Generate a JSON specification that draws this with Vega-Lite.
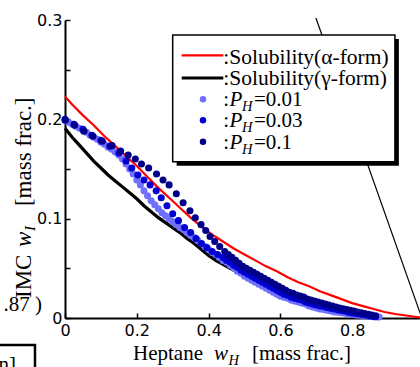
{
"$schema": "https://vega.github.io/schema/vega-lite/v6.json",
"width": 355, "height": 298,
"autosize": {"type": "none"},
"padding": {"left": 65, "top": 20, "right": 0, "bottom": 49},
"background": "white",
"config": {"view": {"stroke": null}, "axis": {"grid": false, "title": null, "domainColor": "black", "domainWidth": 2, "tickColor": "black", "tickWidth": 1.5, "labelColor": "black", "labelFont": "DejaVu Sans", "labelFontSize": 16}},
"datasets": {
"alpha": [{"x":0,"y":0.223},{"x":0.02,"y":0.215},{"x":0.05,"y":0.204},{"x":0.08,"y":0.194},{"x":0.11,"y":0.183},{"x":0.14,"y":0.173},{"x":0.17,"y":0.163},{"x":0.2,"y":0.153},{"x":0.23,"y":0.142},{"x":0.26,"y":0.131},{"x":0.29,"y":0.121},{"x":0.32,"y":0.111},{"x":0.35,"y":0.101},{"x":0.38,"y":0.092},{"x":0.41,"y":0.084},{"x":0.44,"y":0.077},{"x":0.47,"y":0.07},{"x":0.5,"y":0.064},{"x":0.53,"y":0.058},{"x":0.56,"y":0.052},{"x":0.59,"y":0.047},{"x":0.62,"y":0.041},{"x":0.65,"y":0.036},{"x":0.68,"y":0.032},{"x":0.71,"y":0.027},{"x":0.74,"y":0.023},{"x":0.77,"y":0.019},{"x":0.8,"y":0.015},{"x":0.83,"y":0.012},{"x":0.86,"y":0.009},{"x":0.89,"y":0.006},{"x":0.92,"y":0.004},{"x":0.95,"y":0.0025},{"x":0.98,"y":0.001},{"x":1.0,"y":0.0}],
"gamma": [{"x":0,"y":0.191},{"x":0.02,"y":0.182},{"x":0.04,"y":0.174},{"x":0.06,"y":0.166},{"x":0.08,"y":0.158},{"x":0.1,"y":0.151},{"x":0.12,"y":0.144},{"x":0.14,"y":0.138},{"x":0.16,"y":0.132},{"x":0.18,"y":0.126},{"x":0.2,"y":0.12},{"x":0.22,"y":0.113},{"x":0.24,"y":0.107},{"x":0.26,"y":0.101},{"x":0.28,"y":0.096},{"x":0.3,"y":0.091},{"x":0.32,"y":0.086},{"x":0.34,"y":0.08},{"x":0.36,"y":0.075},{"x":0.38,"y":0.069},{"x":0.4,"y":0.063},{"x":0.42,"y":0.058},{"x":0.44,"y":0.054},{"x":0.46,"y":0.05},{"x":0.5,"y":0.043},{"x":0.55,"y":0.035},{"x":0.6,"y":0.028},{"x":0.65,"y":0.022},{"x":0.7,"y":0.016},{"x":0.75,"y":0.011},{"x":0.8,"y":0.007},{"x":0.85,"y":0.003},{"x":0.88,"y":0.001}],
"pts": [
{"PH":"0.01","x":0.0,"y":0.199},{"PH":"0.01","x":0.01,"y":0.197},{"PH":"0.01","x":0.02,"y":0.195},{"PH":"0.01","x":0.03,"y":0.193},{"PH":"0.01","x":0.04,"y":0.191},{"PH":"0.01","x":0.05,"y":0.189},{"PH":"0.01","x":0.06,"y":0.187},{"PH":"0.01","x":0.07,"y":0.184},{"PH":"0.01","x":0.08,"y":0.182},{"PH":"0.01","x":0.09,"y":0.18},{"PH":"0.01","x":0.1,"y":0.177},{"PH":"0.01","x":0.11,"y":0.175},{"PH":"0.01","x":0.12,"y":0.172},{"PH":"0.01","x":0.13,"y":0.17},{"PH":"0.01","x":0.14,"y":0.167},{"PH":"0.01","x":0.15,"y":0.164},{"PH":"0.01","x":0.16,"y":0.16},{"PH":"0.01","x":0.17,"y":0.155},{"PH":"0.01","x":0.18,"y":0.15},{"PH":"0.01","x":0.19,"y":0.145},{"PH":"0.01","x":0.2,"y":0.139},{"PH":"0.01","x":0.21,"y":0.134},{"PH":"0.01","x":0.22,"y":0.128},{"PH":"0.01","x":0.23,"y":0.123},{"PH":"0.01","x":0.24,"y":0.118},{"PH":"0.01","x":0.25,"y":0.114},{"PH":"0.01","x":0.26,"y":0.11},{"PH":"0.01","x":0.27,"y":0.106},{"PH":"0.01","x":0.28,"y":0.103},{"PH":"0.01","x":0.29,"y":0.1},{"PH":"0.01","x":0.3,"y":0.097},{"PH":"0.01","x":0.31,"y":0.094},{"PH":"0.01","x":0.32,"y":0.091},{"PH":"0.01","x":0.33,"y":0.089},{"PH":"0.01","x":0.34,"y":0.086},{"PH":"0.01","x":0.35,"y":0.083},{"PH":"0.01","x":0.36,"y":0.081},{"PH":"0.01","x":0.37,"y":0.078},{"PH":"0.01","x":0.38,"y":0.075},{"PH":"0.01","x":0.39,"y":0.072},{"PH":"0.01","x":0.4,"y":0.069},{"PH":"0.01","x":0.41,"y":0.066},{"PH":"0.01","x":0.42,"y":0.064},{"PH":"0.01","x":0.43,"y":0.061},{"PH":"0.01","x":0.44,"y":0.058},{"PH":"0.01","x":0.45,"y":0.056},{"PH":"0.01","x":0.46,"y":0.053},{"PH":"0.01","x":0.47,"y":0.05},{"PH":"0.01","x":0.48,"y":0.047},{"PH":"0.01","x":0.49,"y":0.045},{"PH":"0.01","x":0.5,"y":0.042},{"PH":"0.01","x":0.51,"y":0.04},{"PH":"0.01","x":0.52,"y":0.038},{"PH":"0.01","x":0.53,"y":0.036},{"PH":"0.01","x":0.54,"y":0.034},{"PH":"0.01","x":0.55,"y":0.032},{"PH":"0.01","x":0.56,"y":0.03},{"PH":"0.01","x":0.57,"y":0.028},{"PH":"0.01","x":0.58,"y":0.026},{"PH":"0.01","x":0.59,"y":0.024},{"PH":"0.01","x":0.6,"y":0.022},{"PH":"0.01","x":0.61,"y":0.021},{"PH":"0.01","x":0.62,"y":0.02},{"PH":"0.01","x":0.63,"y":0.018},{"PH":"0.01","x":0.64,"y":0.017},{"PH":"0.01","x":0.65,"y":0.016},{"PH":"0.01","x":0.66,"y":0.015},{"PH":"0.01","x":0.67,"y":0.014},{"PH":"0.01","x":0.68,"y":0.012},{"PH":"0.01","x":0.69,"y":0.011},{"PH":"0.01","x":0.7,"y":0.01},{"PH":"0.01","x":0.71,"y":0.009},{"PH":"0.01","x":0.72,"y":0.0085},{"PH":"0.01","x":0.73,"y":0.0078},{"PH":"0.01","x":0.74,"y":0.007},{"PH":"0.01","x":0.75,"y":0.006},{"PH":"0.01","x":0.76,"y":0.0057},{"PH":"0.01","x":0.77,"y":0.0052},{"PH":"0.01","x":0.78,"y":0.0047},{"PH":"0.01","x":0.79,"y":0.004},{"PH":"0.01","x":0.8,"y":0.0035},{"PH":"0.01","x":0.81,"y":0.0031},{"PH":"0.01","x":0.82,"y":0.0027},{"PH":"0.01","x":0.83,"y":0.0023},{"PH":"0.01","x":0.84,"y":0.002},{"PH":"0.01","x":0.85,"y":0.0015},{"PH":"0.01","x":0.86,"y":0.0012},{"PH":"0.01","x":0.87,"y":0.001},{"PH":"0.01","x":0.875,"y":0.001},
{"PH":"0.03","x":0.0,"y":0.2},{"PH":"0.03","x":0.025,"y":0.195},{"PH":"0.03","x":0.05,"y":0.19},{"PH":"0.03","x":0.075,"y":0.184},{"PH":"0.03","x":0.1,"y":0.179},{"PH":"0.03","x":0.125,"y":0.173},{"PH":"0.03","x":0.15,"y":0.166},{"PH":"0.03","x":0.17,"y":0.158},{"PH":"0.03","x":0.186,"y":0.151},{"PH":"0.03","x":0.203,"y":0.144},{"PH":"0.03","x":0.22,"y":0.139},{"PH":"0.03","x":0.237,"y":0.134},{"PH":"0.03","x":0.254,"y":0.128},{"PH":"0.03","x":0.268,"y":0.121},{"PH":"0.03","x":0.284,"y":0.113},{"PH":"0.03","x":0.3,"y":0.105},{"PH":"0.03","x":0.316,"y":0.098},{"PH":"0.03","x":0.333,"y":0.091},{"PH":"0.03","x":0.35,"y":0.086},{"PH":"0.03","x":0.365,"y":0.08},{"PH":"0.03","x":0.38,"y":0.075},{"PH":"0.03","x":0.395,"y":0.071},{"PH":"0.03","x":0.41,"y":0.067},{"PH":"0.03","x":0.425,"y":0.064},{"PH":"0.03","x":0.44,"y":0.061},{"PH":"0.03","x":0.45,"y":0.058},{"PH":"0.03","x":0.46,"y":0.056},{"PH":"0.03","x":0.47,"y":0.053},{"PH":"0.03","x":0.48,"y":0.051},{"PH":"0.03","x":0.49,"y":0.048},{"PH":"0.03","x":0.5,"y":0.046},{"PH":"0.03","x":0.51,"y":0.044},{"PH":"0.03","x":0.52,"y":0.042},{"PH":"0.03","x":0.53,"y":0.04},{"PH":"0.03","x":0.54,"y":0.038},{"PH":"0.03","x":0.55,"y":0.036},{"PH":"0.03","x":0.56,"y":0.034},{"PH":"0.03","x":0.57,"y":0.032},{"PH":"0.03","x":0.58,"y":0.03},{"PH":"0.03","x":0.59,"y":0.028},{"PH":"0.03","x":0.6,"y":0.026},{"PH":"0.03","x":0.61,"y":0.024},{"PH":"0.03","x":0.62,"y":0.023},{"PH":"0.03","x":0.63,"y":0.021},{"PH":"0.03","x":0.64,"y":0.02},{"PH":"0.03","x":0.65,"y":0.019},{"PH":"0.03","x":0.66,"y":0.018},{"PH":"0.03","x":0.67,"y":0.016},{"PH":"0.03","x":0.68,"y":0.015},{"PH":"0.03","x":0.69,"y":0.014},{"PH":"0.03","x":0.7,"y":0.013},{"PH":"0.03","x":0.71,"y":0.012},{"PH":"0.03","x":0.72,"y":0.0115},{"PH":"0.03","x":0.73,"y":0.0105},{"PH":"0.03","x":0.74,"y":0.0097},{"PH":"0.03","x":0.75,"y":0.009},{"PH":"0.03","x":0.76,"y":0.0082},{"PH":"0.03","x":0.77,"y":0.0075},{"PH":"0.03","x":0.78,"y":0.0068},{"PH":"0.03","x":0.79,"y":0.0058},{"PH":"0.03","x":0.8,"y":0.005},{"PH":"0.03","x":0.81,"y":0.0045},{"PH":"0.03","x":0.82,"y":0.004},{"PH":"0.03","x":0.83,"y":0.0033},{"PH":"0.03","x":0.84,"y":0.0028},{"PH":"0.03","x":0.85,"y":0.002},{"PH":"0.03","x":0.86,"y":0.0014},{"PH":"0.03","x":0.865,"y":0.0012},
{"PH":"0.1","x":0.001,"y":0.199},{"PH":"0.1","x":0.027,"y":0.194},{"PH":"0.1","x":0.053,"y":0.188},{"PH":"0.1","x":0.078,"y":0.183},{"PH":"0.1","x":0.104,"y":0.178},{"PH":"0.1","x":0.131,"y":0.1735},{"PH":"0.1","x":0.155,"y":0.168},{"PH":"0.1","x":0.176,"y":0.164},{"PH":"0.1","x":0.196,"y":0.16},{"PH":"0.1","x":0.213,"y":0.155},{"PH":"0.1","x":0.233,"y":0.151},{"PH":"0.1","x":0.255,"y":0.145},{"PH":"0.1","x":0.273,"y":0.139},{"PH":"0.1","x":0.29,"y":0.134},{"PH":"0.1","x":0.31,"y":0.125},{"PH":"0.1","x":0.329,"y":0.116},{"PH":"0.1","x":0.348,"y":0.108},{"PH":"0.1","x":0.363,"y":0.101},{"PH":"0.1","x":0.379,"y":0.094},{"PH":"0.1","x":0.392,"y":0.088},{"PH":"0.1","x":0.404,"y":0.082},{"PH":"0.1","x":0.417,"y":0.077},{"PH":"0.1","x":0.431,"y":0.072},{"PH":"0.1","x":0.445,"y":0.067},{"PH":"0.1","x":0.455,"y":0.064},{"PH":"0.1","x":0.465,"y":0.061},{"PH":"0.1","x":0.475,"y":0.058},{"PH":"0.1","x":0.485,"y":0.055},{"PH":"0.1","x":0.495,"y":0.052},{"PH":"0.1","x":0.505,"y":0.05},{"PH":"0.1","x":0.515,"y":0.048},{"PH":"0.1","x":0.525,"y":0.046},{"PH":"0.1","x":0.535,"y":0.044},{"PH":"0.1","x":0.545,"y":0.042},{"PH":"0.1","x":0.555,"y":0.04},{"PH":"0.1","x":0.565,"y":0.038},{"PH":"0.1","x":0.575,"y":0.036},{"PH":"0.1","x":0.585,"y":0.034},{"PH":"0.1","x":0.595,"y":0.032},{"PH":"0.1","x":0.605,"y":0.03},{"PH":"0.1","x":0.615,"y":0.028},{"PH":"0.1","x":0.625,"y":0.026},{"PH":"0.1","x":0.635,"y":0.025},{"PH":"0.1","x":0.645,"y":0.023},{"PH":"0.1","x":0.655,"y":0.022},{"PH":"0.1","x":0.665,"y":0.021},{"PH":"0.1","x":0.675,"y":0.019},{"PH":"0.1","x":0.685,"y":0.018},{"PH":"0.1","x":0.695,"y":0.017},{"PH":"0.1","x":0.705,"y":0.016},{"PH":"0.1","x":0.715,"y":0.015},{"PH":"0.1","x":0.725,"y":0.014},{"PH":"0.1","x":0.735,"y":0.013},{"PH":"0.1","x":0.745,"y":0.012},{"PH":"0.1","x":0.755,"y":0.011},{"PH":"0.1","x":0.765,"y":0.01},{"PH":"0.1","x":0.775,"y":0.0092},{"PH":"0.1","x":0.785,"y":0.0085},{"PH":"0.1","x":0.795,"y":0.0078},{"PH":"0.1","x":0.805,"y":0.007},{"PH":"0.1","x":0.815,"y":0.006},{"PH":"0.1","x":0.825,"y":0.0052},{"PH":"0.1","x":0.835,"y":0.0045},{"PH":"0.1","x":0.845,"y":0.0037},{"PH":"0.1","x":0.855,"y":0.003},{"PH":"0.1","x":0.865,"y":0.0022}
],
"callout": [{"x":0.699,"y":0.302},{"x":0.994,"y":0.0}]
},
"layer": [
{"data": {"name": "callout"}, "mark": {"type": "line", "color": "black", "strokeWidth": 1.2},
 "encoding": {
  "x": {"field": "x", "type": "quantitative", "scale": {"domain": [0, 0.98886], "nice": false, "zero": false},
        "axis": {"title": null, "values": [0,0.1,0.2,0.3,0.4,0.5,0.6,0.7,0.8,0.9], "format": "~g", "labelExpr": "round(datum.value*10)%2===0 ? datum.label : ''", "tickSize": -5, "labelPadding": 9, "labelFlush": false, "labelOverlap": false}},
  "y": {"field": "y", "type": "quantitative", "scale": {"domain": [0, 0.3], "nice": false, "zero": false},
        "axis": {"title": null, "values": [0,0.05,0.1,0.15,0.2,0.25,0.3], "format": "~g", "labelExpr": "round(datum.value*20)%2===0 ? datum.label : ''", "tickSize": -5, "labelPadding": 8, "labelFlush": false, "labelOverlap": false}}
 }},
{"data": {"name": "alpha"}, "mark": {"type": "line", "color": "#ff0000", "strokeWidth": 2.2},
 "encoding": {"x": {"field": "x", "type": "quantitative"}, "y": {"field": "y", "type": "quantitative"}}},
{"data": {"name": "gamma"}, "mark": {"type": "line", "color": "#000000", "strokeWidth": 3.2},
 "encoding": {"x": {"field": "x", "type": "quantitative"}, "y": {"field": "y", "type": "quantitative"}}},
{"data": {"name": "pts"}, "mark": {"type": "circle", "size": 50, "opacity": 1},
 "encoding": {"x": {"field": "x", "type": "quantitative"}, "y": {"field": "y", "type": "quantitative"},
  "color": {"field": "PH", "type": "nominal", "scale": {"domain": ["0.01","0.03","0.1"], "range": ["#7070ff","#0000d0","#000088"]}, "legend": null}}},
{"data": {"values": [{}]}, "mark": {"type": "rect", "color": "black"},
 "encoding": {"x": {"datum": 0.311}, "x2": {"datum": 0.930}, "y": {"datum": 0.2809}, "y2": {"datum": 0.1533}}},
{"data": {"values": [{}]}, "mark": {"type": "rect", "fill": "white", "stroke": "black", "strokeWidth": 1.5},
 "encoding": {"x": {"datum": 0.300}, "x2": {"datum": 0.919}, "y": {"datum": 0.2849}, "y2": {"datum": 0.1573}}},
{"data": {"values": [{}]}, "mark": {"type": "rule", "color": "#ff0000", "strokeWidth": 2.2},
 "encoding": {"x": {"datum": 0.3251}, "x2": {"datum": 0.441}, "y": {"datum": 0.2643}}},
{"data": {"values": [{}]}, "mark": {"type": "rule", "color": "#000000", "strokeWidth": 3.2},
 "encoding": {"x": {"datum": 0.3251}, "x2": {"datum": 0.441}, "y": {"datum": 0.2416}}},
{"data": {"values": [{}]}, "mark": {"type": "circle", "size": 42, "opacity": 1, "color": "#7070ff"},
 "encoding": {"x": {"datum": 0.3844}, "y": {"datum": 0.2202}}},
{"data": {"values": [{}]}, "mark": {"type": "circle", "size": 42, "opacity": 1, "color": "#0000d0"},
 "encoding": {"x": {"datum": 0.3844}, "y": {"datum": 0.1990}}},
{"data": {"values": [{}]}, "mark": {"type": "circle", "size": 42, "opacity": 1, "color": "#000088"},
 "encoding": {"x": {"datum": 0.3844}, "y": {"datum": 0.1775}}},
{"data": {"values": [{}]}, "mark": {"type": "text", "text": ":Solubility(α-form)", "align": "left", "baseline": "alphabetic", "font": "Liberation Serif", "fontSize": 21.5, "color": "black"},
 "encoding": {"x": {"datum": 0.441}, "y": {"datum": 0.2562}}},
{"data": {"values": [{}]}, "mark": {"type": "text", "text": ":Solubility(γ-form)", "align": "left", "baseline": "alphabetic", "font": "Liberation Serif", "fontSize": 21.5, "color": "black"},
 "encoding": {"x": {"datum": 0.441}, "y": {"datum": 0.2346}}},
{"data": {"values": [{}]}, "mark": {"type": "text", "text": ":", "align": "left", "baseline": "alphabetic", "font": "Liberation Serif", "fontSize": 21, "color": "black"},
 "encoding": {"x": {"datum": 0.441}, "y": {"datum": 0.2134}}},
{"data": {"values": [{}]}, "mark": {"type": "text", "text": "P", "align": "left", "baseline": "alphabetic", "font": "Liberation Serif", "fontStyle": "italic", "fontSize": 21, "color": "black"},
 "encoding": {"x": {"datum": 0.4580}, "y": {"datum": 0.2134}}},
{"data": {"values": [{}]}, "mark": {"type": "text", "text": "H", "align": "left", "baseline": "alphabetic", "font": "Liberation Serif", "fontStyle": "italic", "fontSize": 14.5, "color": "black"},
 "encoding": {"x": {"datum": 0.4930}, "y": {"datum": 0.2084}}},
{"data": {"values": [{}]}, "mark": {"type": "text", "text": "=0.01", "align": "left", "baseline": "alphabetic", "font": "Liberation Serif", "fontSize": 21, "color": "black"},
 "encoding": {"x": {"datum": 0.5265}, "y": {"datum": 0.2134}}},
{"data": {"values": [{}]}, "mark": {"type": "text", "text": ":", "align": "left", "baseline": "alphabetic", "font": "Liberation Serif", "fontSize": 21, "color": "black"},
 "encoding": {"x": {"datum": 0.441}, "y": {"datum": 0.1918}}},
{"data": {"values": [{}]}, "mark": {"type": "text", "text": "P", "align": "left", "baseline": "alphabetic", "font": "Liberation Serif", "fontStyle": "italic", "fontSize": 21, "color": "black"},
 "encoding": {"x": {"datum": 0.4580}, "y": {"datum": 0.1918}}},
{"data": {"values": [{}]}, "mark": {"type": "text", "text": "H", "align": "left", "baseline": "alphabetic", "font": "Liberation Serif", "fontStyle": "italic", "fontSize": 14.5, "color": "black"},
 "encoding": {"x": {"datum": 0.4930}, "y": {"datum": 0.1868}}},
{"data": {"values": [{}]}, "mark": {"type": "text", "text": "=0.03", "align": "left", "baseline": "alphabetic", "font": "Liberation Serif", "fontSize": 21, "color": "black"},
 "encoding": {"x": {"datum": 0.5265}, "y": {"datum": 0.1918}}},
{"data": {"values": [{}]}, "mark": {"type": "text", "text": ":", "align": "left", "baseline": "alphabetic", "font": "Liberation Serif", "fontSize": 21, "color": "black"},
 "encoding": {"x": {"datum": 0.441}, "y": {"datum": 0.1706}}},
{"data": {"values": [{}]}, "mark": {"type": "text", "text": "P", "align": "left", "baseline": "alphabetic", "font": "Liberation Serif", "fontStyle": "italic", "fontSize": 21, "color": "black"},
 "encoding": {"x": {"datum": 0.4580}, "y": {"datum": 0.1706}}},
{"data": {"values": [{}]}, "mark": {"type": "text", "text": "H", "align": "left", "baseline": "alphabetic", "font": "Liberation Serif", "fontStyle": "italic", "fontSize": 14.5, "color": "black"},
 "encoding": {"x": {"datum": 0.4930}, "y": {"datum": 0.1656}}},
{"data": {"values": [{}]}, "mark": {"type": "text", "text": "=0.1", "align": "left", "baseline": "alphabetic", "font": "Liberation Serif", "fontSize": 21, "color": "black"},
 "encoding": {"x": {"datum": 0.5265}, "y": {"datum": 0.1706}}},
{"data": {"values": [{}]}, "mark": {"type": "text", "text": "Heptane", "align": "left", "baseline": "alphabetic", "font": "Liberation Serif", "fontSize": 21, "color": "black"},
 "encoding": {"x": {"datum": 0.1894}, "y": {"datum": -0.0423}}},
{"data": {"values": [{}]}, "mark": {"type": "text", "text": "w", "align": "left", "baseline": "alphabetic", "font": "Liberation Serif", "fontStyle": "italic", "fontSize": 21, "color": "black"},
 "encoding": {"x": {"datum": 0.415}, "y": {"datum": -0.0423}}},
{"data": {"values": [{}]}, "mark": {"type": "text", "text": "H", "align": "left", "baseline": "alphabetic", "font": "Liberation Serif", "fontStyle": "italic", "fontSize": 14.5, "color": "black"},
 "encoding": {"x": {"datum": 0.4554}, "y": {"datum": -0.0473}}},
{"data": {"values": [{}]}, "mark": {"type": "text", "text": "[mass frac.]", "align": "left", "baseline": "alphabetic", "font": "Liberation Serif", "fontSize": 21, "color": "black"},
 "encoding": {"x": {"datum": 0.5209}, "y": {"datum": -0.0423}}},
{"data": {"values": [{}]}, "mark": {"type": "text", "text": "IMC", "angle": 270, "align": "left", "baseline": "alphabetic", "font": "Liberation Serif", "fontSize": 23, "color": "black"},
 "encoding": {"x": {"datum": -0.0947}, "y": {"datum": 0.0201}}},
{"data": {"values": [{}]}, "mark": {"type": "text", "text": "w", "angle": 270, "align": "left", "baseline": "alphabetic", "font": "Liberation Serif", "fontStyle": "italic", "fontSize": 23, "color": "black"},
 "encoding": {"x": {"datum": -0.0947}, "y": {"datum": 0.0715}}},
{"data": {"values": [{}]}, "mark": {"type": "text", "text": "I", "angle": 270, "align": "left", "baseline": "alphabetic", "font": "Liberation Serif", "fontStyle": "italic", "fontSize": 15, "color": "black"},
 "encoding": {"x": {"datum": -0.0822}, "y": {"datum": 0.0876}}},
{"data": {"values": [{}]}, "mark": {"type": "text", "text": "[mass frac.]", "angle": 270, "align": "left", "baseline": "alphabetic", "font": "Liberation Serif", "fontSize": 23, "color": "black"},
 "encoding": {"x": {"datum": -0.0947}, "y": {"datum": 0.1127}}},
{"data": {"values": [{}]}, "mark": {"type": "text", "text": ".87 )", "align": "right", "baseline": "alphabetic", "font": "Liberation Serif", "fontSize": 21, "color": "black"},
 "encoding": {"x": {"datum": -0.0641}, "y": {"datum": 0.007}}},
{"data": {"values": [{}]}, "mark": {"type": "rect", "fill": "white", "stroke": "black", "strokeWidth": 2.5},
 "encoding": {"x": {"datum": -0.3}, "x2": {"datum": -0.0836}, "y": {"datum": -0.0272}, "y2": {"datum": -0.2}}},
{"data": {"values": [{}]}, "mark": {"type": "text", "text": "n]", "align": "right", "baseline": "alphabetic", "font": "Liberation Serif", "fontSize": 21, "color": "black"},
 "encoding": {"x": {"datum": -0.1365}, "y": {"datum": -0.0534}}}
]
}
